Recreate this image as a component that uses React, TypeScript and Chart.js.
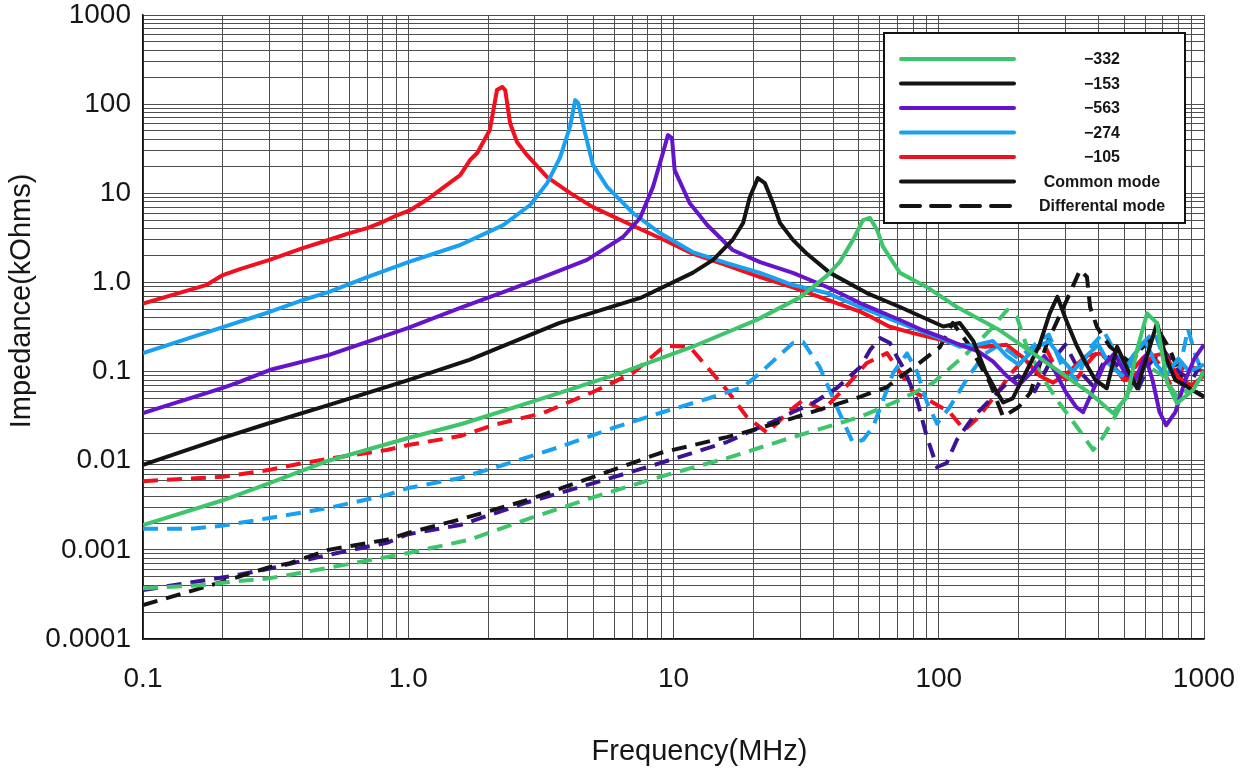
import React, { useEffect, useRef } from 'react';
import { Chart, registerables } from 'chart.js';

Chart.register(...registerables);

// ---------- axis ticks ----------
const xTickValues = [0.1, 1, 10, 100, 1000];
const xTickLabels = ['0.1', '1.0', '10', '100', '1000'];
const yTickValues = [0.0001, 0.001, 0.01, 0.1, 1, 10, 100, 1000];
const yTickLabels = ['0.0001', '0.001', '0.01', '0.1', '1.0', '10', '100', '1000'];
const xTitle = 'Frequency(MHz)';
const yTitle = 'Impedance(kOhms)';

// ---------- legend ----------
const legendLabels = ['\u2212332', '\u2212153', '\u2212563', '\u2212274', '\u2212105', 'Common mode', 'Differental mode'];
const legendColors = ['#3ec46a', '#141414', '#6514cc', '#19a0f0', '#f0101e', '#141414', '#141414'];
const legendDashed = [false, false, false, false, false, false, true];

// ---------- series: common mode (solid) ----------
const cm332Freq = [0.1, 0.2, 0.3, 0.5, 1, 1.6, 3, 6.3, 11.8, 20.6, 30, 38, 42.4, 47.5, 51.8, 55, 58.5, 61.7, 71.4, 90, 117, 170, 227, 304, 372, 454, 513, 559, 610, 665, 726, 791, 910, 1000];
const cm332Imp = [0.0019, 0.0036, 0.0056, 0.01, 0.018, 0.026, 0.047, 0.096, 0.19, 0.38, 0.68, 1.2, 1.7, 3.0, 5.0, 5.3, 3.9, 2.5, 1.28, 0.89, 0.53, 0.29, 0.16, 0.087, 0.057, 0.034, 0.052, 0.175, 0.45, 0.35, 0.075, 0.044, 0.062, 0.1];

const cm153Freq = [0.1, 0.2, 0.3, 0.5, 1, 1.7, 2.1, 3.7, 7.5, 11.8, 14.1, 16.7, 18.3, 19.4, 20.8, 22.1, 23.7, 25.2, 28.2, 31.6, 38.9, 53.6, 71.4, 104, 120, 135, 150, 165, 175, 190, 210, 240, 262, 280, 300, 330, 355, 390, 430, 470, 520, 560, 610, 665, 720, 780, 850, 920, 1000];
const cm153Imp = [0.009, 0.018, 0.0265, 0.042, 0.08, 0.135, 0.175, 0.35, 0.67, 1.28, 1.79, 2.99, 4.64, 9.1, 14.8, 13.0, 7.8, 4.64, 3.0, 2.14, 1.28, 0.76, 0.53, 0.32, 0.35, 0.22, 0.1, 0.06, 0.045, 0.05, 0.09, 0.2, 0.45, 0.69, 0.4, 0.2, 0.13, 0.08, 0.065, 0.19, 0.1, 0.065, 0.15, 0.35, 0.14, 0.08, 0.07, 0.06, 0.052];

const cm563Freq = [0.1, 0.2, 0.226, 0.3, 0.5, 1, 1.57, 2.28, 3.22, 4.72, 6.45, 7.48, 8.37, 9.12, 9.53, 9.87, 10.1, 11.5, 13.4, 16.7, 21.2, 28.2, 37.9, 50.5, 71.4, 85, 100, 120, 140, 160, 180, 200, 225, 250, 275, 300, 330, 350, 380, 420, 460, 500, 550, 600, 640, 680, 720, 780, 850, 920, 1000];
const cm563Imp = [0.0343, 0.0655, 0.0745, 0.104, 0.153, 0.31, 0.517, 0.78, 1.15, 1.79, 3.23, 5.28, 11.8, 28.3, 45, 41.7, 18.2, 7.78, 4.41, 2.31, 1.69, 1.28, 0.889, 0.587, 0.379, 0.3, 0.25, 0.2, 0.17, 0.13, 0.09, 0.07, 0.1, 0.15, 0.1, 0.06, 0.04, 0.035, 0.06, 0.12, 0.16, 0.1, 0.08, 0.15, 0.08, 0.035, 0.025, 0.035, 0.08, 0.14, 0.2];

const cm274Freq = [0.1, 0.2, 0.3, 0.4, 0.5, 0.7, 1, 1.57, 2.28, 2.88, 3.34, 3.73, 4.07, 4.26, 4.37, 4.64, 4.97, 5.62, 7.03, 8.89, 11.8, 15.9, 21.2, 28.2, 37.9, 50.5, 71.4, 100, 120, 140, 160, 180, 200, 230, 260, 290, 320, 360, 400, 440, 490, 540, 600, 660, 720, 800, 880, 1000];
const cm274Imp = [0.161, 0.316, 0.466, 0.635, 0.78, 1.15, 1.69, 2.63, 4.4, 7.39, 13.0, 24.9, 55.4, 111, 103, 47.4, 20.8, 11.8, 6.01, 3.58, 2.19, 1.65, 1.28, 0.935, 0.76, 0.53, 0.351, 0.24, 0.19, 0.2, 0.22, 0.15, 0.12, 0.18, 0.22, 0.14, 0.1, 0.15, 0.2, 0.12, 0.09, 0.15, 0.22, 0.12, 0.09, 0.14, 0.1, 0.12];

const cm105Freq = [0.1, 0.174, 0.2, 0.232, 0.3, 0.4, 0.5, 0.6, 0.7, 0.8, 0.91, 1.02, 1.17, 1.35, 1.57, 1.71, 1.82, 2.03, 2.16, 2.26, 2.32, 2.42, 2.57, 2.8, 3.34, 4.07, 4.97, 6.68, 8.89, 11.8, 15.9, 21.2, 28.2, 37.9, 50.5, 56.5, 65, 80, 100, 120, 150, 180, 210, 240, 270, 310, 360, 410, 460, 510, 570, 640, 710, 800, 900, 1000];
const cm105Imp = [0.58, 0.94, 1.21, 1.41, 1.79, 2.43, 2.99, 3.58, 4.07, 4.76, 5.7, 6.49, 8.4, 11.5, 16, 23.6, 28.3, 51.3, 144, 156, 144, 61.4, 37.6, 26.9, 15.2, 10.1, 7.0, 4.64, 3.15, 2.1, 1.55, 1.15, 0.88, 0.64, 0.47, 0.4, 0.32, 0.27, 0.23, 0.2, 0.19, 0.2, 0.14, 0.09, 0.075, 0.1, 0.15, 0.16, 0.11, 0.08, 0.1, 0.15, 0.16, 0.085, 0.07, 0.09];

// ---------- series: differential mode (dashed) ----------
const dm332Freq = [0.1, 0.164, 0.218, 0.3, 0.39, 0.5, 1, 1.7, 2.8, 5, 8.9, 15.9, 28.2, 50.5, 71.4, 95, 128, 156, 181, 197, 215, 241, 279, 332, 382, 416, 454, 520, 600, 700, 800, 900, 1000];
const dm332Imp = [0.00037, 0.0004, 0.00044, 0.00048, 0.00055, 0.00063, 0.00092, 0.0013, 0.0022, 0.0039, 0.0066, 0.0107, 0.0184, 0.031, 0.048, 0.0745, 0.161, 0.292, 0.491, 0.41, 0.188, 0.0964, 0.048, 0.0239, 0.0132, 0.0184, 0.0286, 0.06, 0.12, 0.09, 0.05, 0.07, 0.1];

const dm153Freq = [0.1, 0.164, 0.2, 0.3, 0.358, 0.5, 0.83, 1, 1.57, 2.8, 5, 8.9, 15.9, 20, 28.2, 50.5, 63.8, 71.4, 82.8, 101, 113, 130, 156, 175, 200, 221, 256, 304, 341, 362, 372, 395, 442, 520, 600, 683, 745, 833, 1000];
const dm153Imp = [0.00024, 0.00037, 0.00044, 0.00064, 0.00071, 0.001, 0.0013, 0.00155, 0.0022, 0.0036, 0.0066, 0.0122, 0.0184, 0.0221, 0.0301, 0.0519, 0.0671, 0.0869, 0.119, 0.188, 0.351, 0.2, 0.0745, 0.031, 0.04, 0.0574, 0.209, 0.635, 1.38, 1.15, 0.53, 0.316, 0.19, 0.13, 0.2, 0.27, 0.175, 0.0745, 0.052];

const dm563Freq = [0.1, 0.174, 0.226, 0.31, 0.5, 0.83, 1, 1.57, 2.8, 5, 8.9, 15.9, 20, 24.5, 28.2, 33.6, 41.3, 50.5, 55.1, 60.1, 65.5, 69.6, 73.3, 82.8, 90.3, 98.5, 107, 117, 135, 156, 181, 200, 230, 260, 300, 340, 380, 430, 500, 560, 620, 700, 800, 900, 1000];
const dm563Imp = [0.000354, 0.00046, 0.00052, 0.00063, 0.00088, 0.0012, 0.0015, 0.0019, 0.0034, 0.0056, 0.0094, 0.0162, 0.0221, 0.0286, 0.0352, 0.0444, 0.0655, 0.112, 0.175, 0.238, 0.209, 0.146, 0.112, 0.048, 0.0184, 0.0085, 0.0094, 0.0171, 0.031, 0.048, 0.0745, 0.09, 0.06, 0.12, 0.2, 0.1, 0.07, 0.15, 0.1, 0.06, 0.12, 0.18, 0.1, 0.08, 0.14];

const dm274Freq = [0.1, 0.15, 0.2, 0.3, 0.5, 0.83, 1, 1.57, 2.28, 3.73, 5.92, 8.89, 13.7, 18.3, 21.2, 28.2, 30.8, 35.6, 41.3, 47.5, 51.8, 56.5, 61.7, 67.3, 75.9, 82.8, 90.3, 98.5, 110, 130, 150, 170, 200, 230, 260, 290, 330, 370, 420, 470, 520, 580, 650, 720, 800, 870, 930, 1000];
const dm274Imp = [0.00172, 0.00172, 0.00187, 0.00228, 0.00295, 0.00412, 0.00494, 0.0064, 0.00895, 0.0143, 0.0233, 0.0343, 0.0505, 0.0671, 0.0964, 0.209, 0.215, 0.112, 0.04, 0.0158, 0.0171, 0.0239, 0.048, 0.0964, 0.16, 0.1, 0.045, 0.026, 0.04, 0.09, 0.16, 0.2, 0.14, 0.2, 0.26, 0.12, 0.08, 0.18, 0.28, 0.15, 0.1, 0.2, 0.28, 0.12, 0.09, 0.3, 0.15, 0.09];

const dm105Freq = [0.1, 0.2, 0.3, 0.4, 0.5, 0.83, 1, 1.57, 2.09, 3.22, 4.97, 7.03, 8.89, 9.45, 11.5, 13.4, 15.9, 18.9, 22.6, 26.8, 30.8, 36.6, 43.5, 53.6, 63.8, 69.6, 80, 95, 110, 125, 140, 160, 190, 220, 250, 280, 320, 360, 400, 450, 500, 560, 620, 680, 750, 850, 1000];
const dm105Imp = [0.0059, 0.0066, 0.0079, 0.0094, 0.0105, 0.0132, 0.015, 0.0189, 0.0251, 0.0343, 0.059, 0.0964, 0.175, 0.194, 0.19, 0.112, 0.062, 0.031, 0.0205, 0.0343, 0.048, 0.037, 0.062, 0.125, 0.161, 0.11, 0.06, 0.045, 0.035, 0.022, 0.03, 0.05, 0.1, 0.16, 0.2, 0.1, 0.07, 0.12, 0.17, 0.12, 0.08, 0.12, 0.17, 0.12, 0.07, 0.12, 0.1];

const FONT = '"Liberation Sans", Arial, Helvetica, sans-serif';
const TEXT = '#161616';

function pts(f: number[], v: number[]) {
  return f.map((x, i) => ({ x, y: v[i] }));
}

function logGrid(decades: number[]) {
  const out: number[] = [];
  for (let i = 0; i < decades.length - 1; i++) {
    for (let k = 1; k < 10; k++) out.push(+(decades[i] * k).toPrecision(6));
  }
  out.push(decades[decades.length - 1]);
  return out;
}

function labelFor(values: number[], labels: string[], v: number) {
  const i = values.findIndex((t) => Math.abs(t - v) / t < 1e-6);
  return i >= 0 ? labels[i] : '';
}

const overlayPlugin = {
  id: 'overlay',
  afterDatasetsDraw(chart: any) {
    const ctx = chart.ctx as CanvasRenderingContext2D;
    const ca = chart.chartArea;
    const bx = ca.right - 320;
    const by = ca.top + 18;
    const bw = 301;
    const bh = 190;
    ctx.save();
    ctx.fillStyle = '#ffffff';
    ctx.fillRect(bx, by, bw, bh);
    ctx.strokeStyle = '#111';
    ctx.lineWidth = 2;
    ctx.strokeRect(bx, by, bw, bh);
    ctx.font = `bold 16px ${FONT}`;
    ctx.textAlign = 'center';
    ctx.textBaseline = 'middle';
    legendLabels.forEach((lab, i) => {
      const y = by + 26 + i * 24.5;
      ctx.beginPath();
      ctx.strokeStyle = legendColors[i];
      ctx.lineWidth = 4;
      ctx.lineCap = 'round';
      ctx.setLineDash(legendDashed[i] ? [19, 11] : []);
      ctx.moveTo(bx + 17, y);
      ctx.lineTo(bx + 130, y);
      ctx.stroke();
      ctx.setLineDash([]);
      ctx.fillStyle = TEXT;
      ctx.fillText(lab, bx + 218, y + 1);
    });
    ctx.restore();
  },
  afterDraw(chart: any) {
    const ctx = chart.ctx as CanvasRenderingContext2D;
    const ca = chart.chartArea;
    ctx.save();
    ctx.fillStyle = TEXT;
    ctx.font = `29px ${FONT}`;
    ctx.textAlign = 'center';
    ctx.textBaseline = 'middle';
    ctx.fillText(xTitle, (ca.left + ca.right) / 2 + 26, ca.bottom + 113);
    ctx.translate(22, (ca.top + ca.bottom) / 2 - 26);
    ctx.rotate(-Math.PI / 2);
    ctx.fillText(yTitle, 0, 0);
    ctx.restore();
  },
};

export default function App() {
  const ref = useRef<HTMLCanvasElement | null>(null);

  useEffect(() => {
    if (!ref.current) return;
    const solid = (label: string, f: number[], v: number[], color: string) => ({
      label,
      data: pts(f, v),
      borderColor: color,
      backgroundColor: color,
      borderWidth: 4,
      pointRadius: 0,
      tension: 0,
      fill: false,
      borderJoinStyle: 'round' as const,
    });
    const dashed = (label: string, f: number[], v: number[], color: string) => ({
      ...solid(label, f, v, color),
      borderDash: [15, 9],
    });

    const datasets = [
      solid('-332 CM', cm332Freq, cm332Imp, '#3ec46a'),
      solid('-153 CM', cm153Freq, cm153Imp, '#141414'),
      solid('-563 CM', cm563Freq, cm563Imp, '#6514cc'),
      solid('-274 CM', cm274Freq, cm274Imp, '#19a0f0'),
      solid('-105 CM', cm105Freq, cm105Imp, '#f0101e'),
      dashed('-332 DM', dm332Freq, dm332Imp, '#3ec46a'),
      dashed('-153 DM', dm153Freq, dm153Imp, '#141414'),
      dashed('-563 DM', dm563Freq, dm563Imp, '#3a1494'),
      dashed('-274 DM', dm274Freq, dm274Imp, '#19a0f0'),
      dashed('-105 DM', dm105Freq, dm105Imp, '#f0101e'),
    ];

    const gridColor = '#4e4e4e';

    const chart = new Chart(ref.current, {
      type: 'line',
      data: { datasets },
      plugins: [overlayPlugin],
      options: {
        animation: false,
        responsive: false,
        maintainAspectRatio: false,
        devicePixelRatio: 1,
        layout: { padding: { top: 15, right: 43, left: 0, bottom: 0 } },
        plugins: {
          legend: { display: false },
          tooltip: { enabled: false },
          title: { display: false },
        },
        scales: {
          x: {
            type: 'logarithmic',
            min: 0.1,
            max: 1000,
            afterBuildTicks: (s: any) => {
              s.ticks = logGrid(xTickValues).map((v) => ({ value: v }));
            },
            afterFit: (s: any) => {
              s.height = 132;
              s.paddingLeft = 0;
              s.paddingRight = 0;
            },
            grid: { color: gridColor, lineWidth: 1, drawTicks: false },
            border: { color: '#111', width: 1.5 },
            ticks: {
              autoSkip: false,
              maxRotation: 0,
              minRotation: 0,
              padding: 23,
              color: TEXT,
              font: { family: FONT, size: 28 },
              callback: (v: any) => labelFor(xTickValues, xTickLabels, Number(v)),
            },
          },
          y: {
            type: 'logarithmic',
            min: 0.0001,
            max: 1000,
            afterBuildTicks: (s: any) => {
              s.ticks = logGrid(yTickValues).map((v) => ({ value: v }));
            },
            afterFit: (s: any) => {
              s.width = 143;
              s.paddingTop = 0;
              s.paddingBottom = 0;
            },
            grid: { color: gridColor, lineWidth: 1, drawTicks: false },
            border: { color: '#111', width: 1.5 },
            ticks: {
              autoSkip: false,
              padding: 12,
              color: TEXT,
              font: { family: FONT, size: 28 },
              callback: (v: any) => labelFor(yTickValues, yTickLabels, Number(v)),
            },
          },
        },
      } as any,
    });
    return () => chart.destroy();
  }, []);

  return (
    <div style={{ position: 'absolute', left: 0, top: 0, width: 1247, height: 771, background: '#fff' }}>
      <canvas ref={ref} width={1247} height={771} style={{ display: 'block' }} />
    </div>
  );
}
